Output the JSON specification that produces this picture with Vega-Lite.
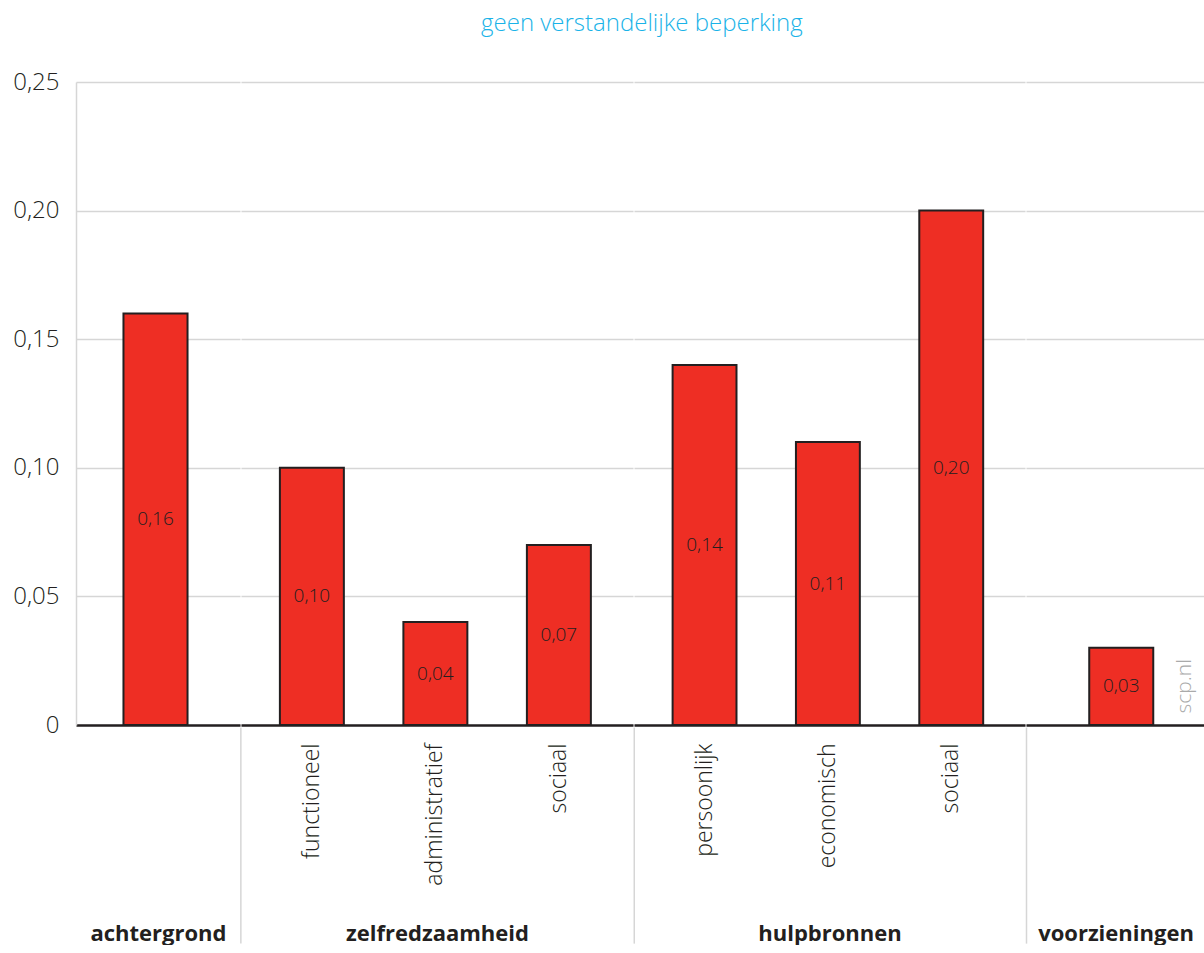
{
  "$schema": "https://vega.github.io/schema/vega-lite/v6.json",
  "padding": {"left": 12, "top": 12, "right": 1, "bottom": 0},
  "background": "white",
  "title": {"text": "geen verstandelijke beperking", "color": "#1ab3e8", "fontSize": 24, "font": "Open Sans", "fontWeight": 300, "anchor": "middle", "offset": 34, "dx": 33},
  "config": {
    "font": "Open Sans",
    "view": {"stroke": null},
    "locale": {"number": {"decimal": ",", "thousands": ".", "grouping": [3], "currency": ["€ ", ""]}},
    "axis": {"labelColor": "#231f20", "titleColor": "#231f20", "labelFont": "Open Sans", "titleFont": "Open Sans", "labelFontWeight": 300}
  },
  "datasets": {
    "bars": [
      {"groep": "achtergrond", "item": "achtergrond", "waarde": 0.16},
      {"groep": "zelfredzaamheid", "item": "functioneel", "waarde": 0.10},
      {"groep": "zelfredzaamheid", "item": "administratief", "waarde": 0.04},
      {"groep": "zelfredzaamheid", "item": "sociaal", "waarde": 0.07},
      {"groep": "hulpbronnen", "item": "persoonlijk", "waarde": 0.14},
      {"groep": "hulpbronnen", "item": "economisch", "waarde": 0.11},
      {"groep": "hulpbronnen", "item": "sociaal", "waarde": 0.20},
      {"groep": "voorzieningen", "item": "voorzieningen", "waarde": 0.03}
    ]
  },
  "spacing": 0,
  "resolve": {"scale": {"x": "independent", "y": "independent"}},
  "hconcat": [
    {
      "width": 164, "height": 643,
      "data": {"name": "bars"},
      "layer": [
        {
          "transform": [{"filter": "datum.groep === 'achtergrond'"}],
          "mark": {"type": "bar", "fill": "#ee2e24", "stroke": "#231f20", "strokeWidth": 2},
          "encoding": {
            "x": {"field": "item", "type": "nominal", "sort": null,
              "scale": {"paddingInner": 0, "paddingOuter": 0.78, "align": 0.475},
              "axis": {"title": "achtergrond", "labels": false, "ticks": false, "domainColor": "#231f20", "domainWidth": 2.5, "titleFontSize": 22, "titleFontWeight": "bold", "titleY": 215, "titleBaseline": "alphabetic"}},
            "y": {"field": "waarde", "type": "quantitative", "scale": {"domain": [0, 0.25], "nice": false},
              "axis": {"title": null, "values": [0, 0.05, 0.1, 0.15, 0.2, 0.25], "format": ".2f", "labelExpr": "datum.value === 0 ? '0' : datum.label", "ticks": false, "labelPadding": 17, "labelFontSize": 24, "domainColor": "#d6d6d6", "domainWidth": 1.5, "gridColor": "#d6d6d6", "gridWidth": 1.5, "grid": true}}
          }
        },
        {
          "transform": [{"filter": "datum.groep === 'achtergrond'"}],
          "mark": {"type": "text", "fontSize": 19, "fontWeight": 300, "color": "#231f20", "baseline": "middle"},
          "encoding": {
            "x": {"field": "item", "type": "nominal", "sort": null},
            "y": {"field": "waarde", "type": "quantitative", "scale": {"domain": [0, 0.5], "nice": false}, "axis": null},
            "text": {"field": "waarde", "type": "quantitative", "format": ".2f"}
          }
        }
      ],
      "resolve": {"scale": {"y": "independent"}}
    },
    {
      "width": 392, "height": 643,
      "data": {"name": "bars"},
      "layer": [
        {
          "layer": [
            {
              "transform": [{"filter": "datum.groep === 'zelfredzaamheid'"}],
              "mark": {"type": "bar", "fill": "#ee2e24", "stroke": "#231f20", "strokeWidth": 2},
              "encoding": {
                "x": {"field": "item", "type": "nominal", "sort": null,
                  "scale": {"paddingInner": 0.482, "paddingOuter": 0.328, "align": 0.48},
                  "axis": {"title": "zelfredzaamheid", "labelAngle": -90, "labelFontSize": 23, "labelPadding": 18, "ticks": false, "domainColor": "#231f20", "domainWidth": 2.5, "titleFontSize": 22, "titleFontWeight": "bold", "titleY": 215, "titleBaseline": "alphabetic"}},
                "y": {"field": "waarde", "type": "quantitative", "scale": {"domain": [0, 0.25], "nice": false},
                  "axis": {"title": null, "values": [0, 0.05, 0.1, 0.15, 0.2, 0.25], "labels": false, "ticks": false, "domain": false, "grid": true, "gridColor": "#d6d6d6", "gridWidth": 1.5, "minExtent": 0, "maxExtent": 0}}
              }
            },
            {
              "data": {"values": [{}]},
              "mark": {"type": "rule", "color": "#d6d6d6", "strokeWidth": 1.5, "clip": false},
              "encoding": {
                "x": {"datum": "functioneel", "type": "nominal", "bandPosition": -0.61},
                "y": {"datum": -0.001, "type": "quantitative"},
                "y2": {"datum": -0.085}
              }
            }
          ]
        },
        {
          "transform": [{"filter": "datum.groep === 'zelfredzaamheid'"}],
          "mark": {"type": "text", "fontSize": 19, "fontWeight": 300, "color": "#231f20", "baseline": "middle"},
          "encoding": {
            "x": {"field": "item", "type": "nominal", "sort": null},
            "y": {"field": "waarde", "type": "quantitative", "scale": {"domain": [0, 0.5], "nice": false}, "axis": null},
            "text": {"field": "waarde", "type": "quantitative", "format": ".2f"}
          }
        }
      ],
      "resolve": {"scale": {"y": "independent"}}
    },
    {
      "width": 391, "height": 643,
      "data": {"name": "bars"},
      "layer": [
        {
          "layer": [
            {
              "transform": [{"filter": "datum.groep === 'hulpbronnen'"}],
              "mark": {"type": "bar", "fill": "#ee2e24", "stroke": "#231f20", "strokeWidth": 2},
              "encoding": {
                "x": {"field": "item", "type": "nominal", "sort": null,
                  "scale": {"paddingInner": 0.482, "paddingOuter": 0.326, "align": 0.48},
                  "axis": {"title": "hulpbronnen", "labelAngle": -90, "labelFontSize": 23, "labelPadding": 18, "ticks": false, "domainColor": "#231f20", "domainWidth": 2.5, "titleFontSize": 22, "titleFontWeight": "bold", "titleY": 215, "titleBaseline": "alphabetic"}},
                "y": {"field": "waarde", "type": "quantitative", "scale": {"domain": [0, 0.25], "nice": false},
                  "axis": {"title": null, "values": [0, 0.05, 0.1, 0.15, 0.2, 0.25], "labels": false, "ticks": false, "domain": false, "grid": true, "gridColor": "#d6d6d6", "gridWidth": 1.5, "minExtent": 0, "maxExtent": 0}}
              }
            },
            {
              "data": {"values": [{}]},
              "mark": {"type": "rule", "color": "#d6d6d6", "strokeWidth": 1.5, "clip": false},
              "encoding": {
                "x": {"datum": "persoonlijk", "type": "nominal", "bandPosition": -0.60},
                "y": {"datum": -0.001, "type": "quantitative"},
                "y2": {"datum": -0.085}
              }
            }
          ]
        },
        {
          "transform": [{"filter": "datum.groep === 'hulpbronnen'"}],
          "mark": {"type": "text", "fontSize": 19, "fontWeight": 300, "color": "#231f20", "baseline": "middle"},
          "encoding": {
            "x": {"field": "item", "type": "nominal", "sort": null},
            "y": {"field": "waarde", "type": "quantitative", "scale": {"domain": [0, 0.5], "nice": false}, "axis": null},
            "text": {"field": "waarde", "type": "quantitative", "format": ".2f"}
          }
        }
      ],
      "resolve": {"scale": {"y": "independent"}}
    },
    {
      "width": 179, "height": 643,
      "data": {"name": "bars"},
      "layer": [
        {
          "layer": [
            {
              "transform": [{"filter": "datum.groep === 'voorzieningen'"}],
              "mark": {"type": "bar", "fill": "#ee2e24", "stroke": "#231f20", "strokeWidth": 2},
              "encoding": {
                "x": {"field": "item", "type": "nominal", "sort": null,
                  "scale": {"paddingInner": 0, "paddingOuter": 0.898, "align": 0.55},
                  "axis": {"title": "voorzieningen", "labels": false, "ticks": false, "domainColor": "#231f20", "domainWidth": 2.5, "titleFontSize": 22, "titleFontWeight": "bold", "titleY": 215, "titleBaseline": "alphabetic"}},
                "y": {"field": "waarde", "type": "quantitative", "scale": {"domain": [0, 0.25], "nice": false},
                  "axis": {"title": null, "values": [0, 0.05, 0.1, 0.15, 0.2, 0.25], "labels": false, "ticks": false, "domain": false, "grid": true, "gridColor": "#d6d6d6", "gridWidth": 1.5, "minExtent": 0, "maxExtent": 0}}
              }
            },
            {
              "data": {"values": [{}]},
              "mark": {"type": "rule", "color": "#d6d6d6", "strokeWidth": 1.5, "clip": false},
              "encoding": {
                "x": {"datum": "voorzieningen", "type": "nominal", "bandPosition": -0.98},
                "y": {"datum": -0.001, "type": "quantitative"},
                "y2": {"datum": -0.085}
              }
            },
            {
              "data": {"values": [{}]},
              "mark": {"type": "text", "text": "scp.nl", "angle": 270, "align": "left", "baseline": "middle", "fontSize": 21, "fontWeight": 300, "color": "#aaaaaa"},
              "encoding": {
                "x": {"datum": "voorzieningen", "type": "nominal", "bandPosition": 1.5},
                "y": {"datum": 0.0045, "type": "quantitative"}
              }
            }
          ]
        },
        {
          "transform": [{"filter": "datum.groep === 'voorzieningen'"}],
          "mark": {"type": "text", "fontSize": 19, "fontWeight": 300, "color": "#231f20", "baseline": "middle"},
          "encoding": {
            "x": {"field": "item", "type": "nominal", "sort": null},
            "y": {"field": "waarde", "type": "quantitative", "scale": {"domain": [0, 0.5], "nice": false},
              "axis": {"orient": "right", "title": null, "labels": false, "ticks": false, "grid": false, "domainColor": "#d6d6d6", "domainWidth": 2, "minExtent": 0, "maxExtent": 0}},
            "text": {"field": "waarde", "type": "quantitative", "format": ".2f"}
          }
        }
      ],
      "resolve": {"scale": {"y": "independent"}}
    }
  ]
}
